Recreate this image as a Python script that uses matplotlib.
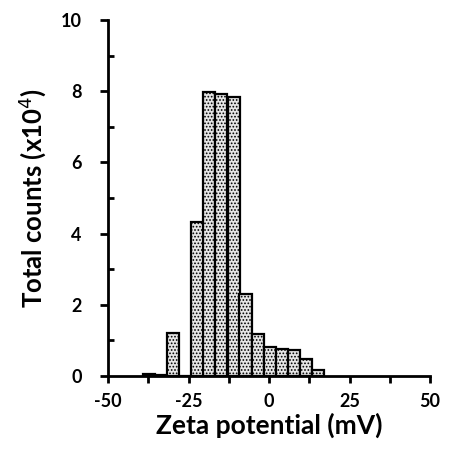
import matplotlib
matplotlib.use("Agg")
import matplotlib.pyplot as plt
import numpy as np

plt.rcParams['font.family'] = ['Lato', 'DejaVu Sans']
plt.rcParams['hatch.color'] = '#555555'
plt.rcParams['hatch.linewidth'] = 0.8

# bin centres (mV) and counts (x10^4)
centers = [-37.2, -33.5, -29.7, -26.0, -22.2, -18.5, -14.8, -11.0, -7.3, -3.5, 0.2, 4.0, 7.7, 11.5, 15.2]
counts = [0.05, 0.02, 1.2, 0.0, 4.33, 7.98, 7.92, 7.85, 2.3, 1.18, 0.82, 0.76, 0.72, 0.47, 0.17]
bin_width = 3.74

xticks = [-50, -25, 0, 25, 50]
yticks = [0, 2, 4, 6, 8, 10]

fig = plt.figure(figsize=(4.5, 4.49), dpi=100)
ax = fig.add_axes([0.24, 0.1626, 0.7156, 0.7929])

ax.bar(centers, counts, width=bin_width, facecolor='#e6e6e6', edgecolor='black',
       linewidth=1.6, hatch='.....', zorder=2)

ax.set_xlim(-50, 50)
ax.set_ylim(0, 10)
ax.set_xticks(xticks)
ax.set_xticks([-37.5, -12.5, 12.5, 37.5], minor=True)
ax.set_yticks(yticks)
ax.set_yticks([1, 3, 5, 7, 9], minor=True)
ax.set_yticklabels([str(v) for v in yticks])
ax.set_xticklabels([str(v) for v in xticks])

for s in ['top', 'right']:
    ax.spines[s].set_visible(False)
for s in ['left', 'bottom']:
    ax.spines[s].set_linewidth(2.0)
    ax.spines[s].set_zorder(3)

ax.tick_params(axis='x', which='both', direction='out', length=5, width=2, labelsize=13, pad=7)
ax.tick_params(axis='y', which='major', direction='out', length=6, width=2, labelsize=13, pad=13)
ax.tick_params(axis='y', which='minor', direction='in', length=4, width=2)
for lab in ax.get_xticklabels() + ax.get_yticklabels():
    lab.set_fontweight('bold')

ax.set_xlabel('Zeta potential (mV)', fontsize=19, fontweight='bold', labelpad=2)
ax.set_ylabel('Total counts (x10$^4$)', fontsize=18.5, fontweight='bold', labelpad=9)

fig.savefig('out.png', dpi=100)
